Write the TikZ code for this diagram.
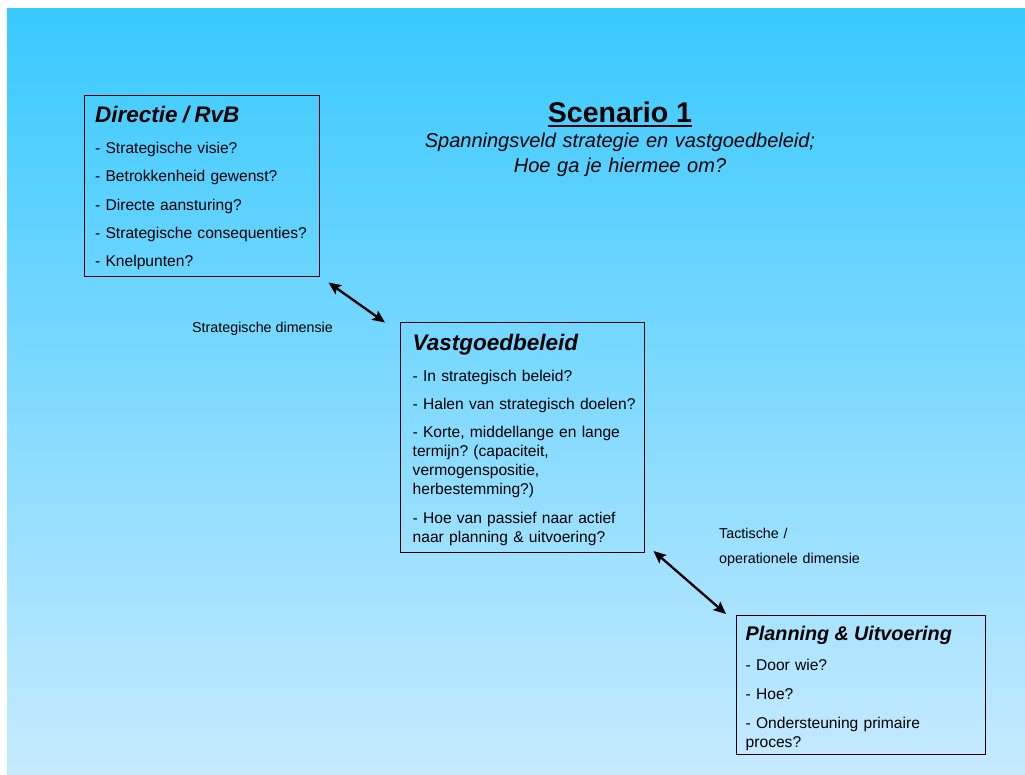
\documentclass[tikz,border=0pt]{standalone}
\usepackage{fontspec}
\setmainfont{Liberation Sans}
\usetikzlibrary{arrows.meta, calc}
\definecolor{achtertop}{RGB}{56,201,255}
\definecolor{achterbodem}{RGB}{199,234,255}
\newcommand{\kop}[1]{\fontsize{#1}{#1}\selectfont\bfseries\itshape}
\newcommand{\tekstfont}{\fontsize{15.6}{19}\selectfont}
\newcommand{\labelfont}{\fontsize{14.3}{25}\selectfont}
\newcommand{\volgende}{\\[9.4pt]}
\frenchspacing

\begin{document}
\begin{tikzpicture}[x=1pt, y=-1pt,
    kader/.style={draw, line width=1pt, anchor=north west, inner sep=0pt},
    inhoud/.style={anchor=base west, inner sep=0pt, align=left, text width=#1, font=\tekstfont},
    inhoud/.default=230pt,
    pijl/.style={{Stealth[length=12.5pt,width=11pt,inset=2.5pt]}-{Stealth[length=12.5pt,width=11pt,inset=2.5pt]}, line width=2.3pt}]
    % Achtergrond
    \fill[white] (0,0) rectangle (1025,775);
    \shade[top color=achtertop, bottom color=achterbodem] (7,9) rectangle (1025,775);
    % Titel
    \node[inner sep=0pt, anchor=base, font=\fontsize{28.5}{34}\selectfont\bfseries] (titel) at (620,123) {Scenario 1};
    \draw[line width=2pt] ($(titel.base west)+(0,3.5)$) -- ($(titel.base east)+(0,3.5)$);
    \node[inner sep=0pt, anchor=base, align=center, text width=440pt, font=\fontsize{20}{25}\selectfont\itshape] (ondertitel) at (620,148) {Spanningsveld strategie en vastgoedbeleid;\\Hoe ga je hiermee om?};
    % Directie / RvB
    \node[kader, minimum width=235pt, minimum height=181pt] (directie) at (84,95) {};
    \node[inhoud=225pt] (directietekst) at ($(directie.north west)+(11,27.8)$) {{\kop{22.5}Directie / RvB}\\[11.5pt]
        - Strategische visie?\volgende
        - Betrokkenheid gewenst?\volgende
        - Directe aansturing?\volgende
        - Strategische consequenties?\volgende
        - Knelpunten?};
    % Vastgoedbeleid
    \node[kader, minimum width=244pt, minimum height=229pt] (vastgoed) at (400,322.5) {};
    \node[inhoud] (vastgoedtekst) at ($(vastgoed.north west)+(12.5,28.2)$) {{\kop{22.5}Vastgoedbeleid}\\[11.5pt]
        - In strategisch beleid?\volgende
        - Halen van strategisch doelen?\volgende
        - Korte, middellange en lange\\
        termijn? (capaciteit,\\
        vermogenspositie,\\
        herbestemming?)\volgende
        - Hoe van passief naar actief\\
        naar planning \& uitvoering?};
    % Planning & Uitvoering
    \node[kader, minimum width=249pt, minimum height=139pt] (planning) at (736,615) {};
    \node[inhoud=236pt] (planningtekst) at ($(planning.north west)+(9.5,25)$) {{\kop{19.8}Planning \& Uitvoering}\\[11pt]
        - Door wie?\\[10pt]
        - Hoe?\\[10pt]
        - Ondersteuning primaire\\
        proces?};
    % Dimensies
    \node[inner sep=0pt, anchor=base west, font=\labelfont] (strategisch) at (192,333) {Strategische dimensie};
    \node[inner sep=0pt, anchor=base west, align=left, text width=160pt, font=\labelfont] (tactisch) at (719,538) {Tactische /\\operationele dimensie};
    % Pijlen
    \draw[pijl] ($(directie.south east)+(8.5,5.5)$) -- ($(vastgoed.north west)+(-15,0)$);
    \draw[pijl] ($(vastgoed.south east)+(8.5,-1.5)$) -- ($(planning.north west)+(-10,-1)$);
\end{tikzpicture}
\end{document}
